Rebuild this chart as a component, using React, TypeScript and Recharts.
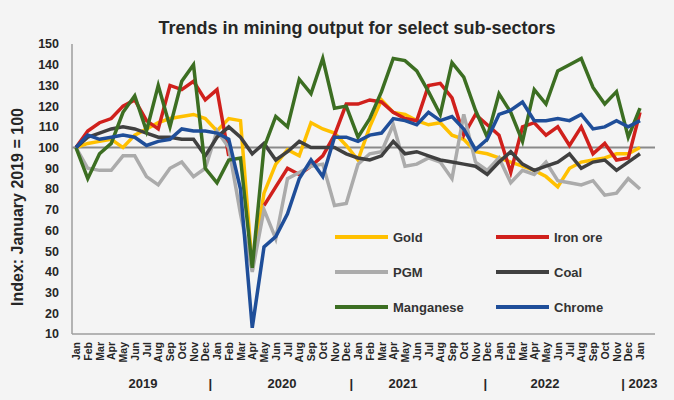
import React from 'react';
import { LineChart, Line, XAxis, YAxis, ReferenceLine } from 'recharts';

const MONTH_NAMES = ['Jan', 'Feb', 'Mar', 'Apr', 'May', 'Jun', 'Jul', 'Aug', 'Sep', 'Oct', 'Nov', 'Dec'];
const FULL_YEARS = [2019, 2020, 2021, 2022];
const LAST_PERIOD = 'Jan 2023';
const Y_TICKS = [10, 20, 30, 40, 50, 60, 70, 80, 90, 100, 110, 120, 130, 140, 150];

const GOLD = [100, 102, 103, 104, 100, 106, 109, 112, 114, 115, 116, 114, 108, 114, 113, 42, 78, 92, 99, 96, 112, 109, 107, 101, 94, 110, 123, 117, 116, 113, 111, 112, 106, 104, 98, 97, 95, 93, 91, 89, 86, 81, 90, 93, 94, 95, 97, 97, 100];
const IRON_ORE = [100, 108, 112, 114, 120, 123, 113, 109, 130, 128, 132, 123, 128, 96, null, null, 72, 81, 90, 87, 91, 96, 106, 121, 121, 123, 122, 117, 114, 113, 130, 131, 124, 106, 116, 111, 106, 88, 110, 112, 106, 110, 101, 110, 97, 102, 94, 95, 117];
const PGM = [100, 90, 89, 89, 96, 96, 86, 82, 90, 93, 86, 90, 108, 100, 68, 40, 70, 56, 85, 88, 91, 92, 72, 73, 92, 97, 98, 111, 91, 92, 95, 93, 85, 116, 93, 89, 95, 83, 89, 87, 93, 84, 83, 82, 84, 77, 78, 85, 80];
const COAL = [100, 105, 107, 109, 110, 109, 107, 105, 105, 104, 104, 96, 105, 110, 105, 97, 102, 94, 98, 103, 100, 100, 100, 97, 95, 94, 96, 103, 97, 98, 96, 94, 93, 92, 91, 87, 93, 98, 92, 89, 91, 93, 97, 90, 93, 94, 89, 93, 97];
const MANGANESE = [100, 85, 97, 102, 117, 125, 108, 130, 110, 132, 140, 90, 83, 94, 95, 42, 100, 115, 110, 133, 126, 143, 119, 120, 105, 114, 127, 143, 142, 137, 127, 116, 141, 134, 118, 105, 126, 117, 103, 128, 121, 137, 140, 143, 129, 121, 127, 105, 119];
const CHROME = [100, 106, 104, 105, 106, 105, 101, 103, 104, 109, 108, 108, 107, 104, 80, 13, 52, 57, 68, 85, 94, 86, 105, 105, 103, 106, 107, 114, 113, 111, 117, 113, 115, 109, 99, 104, 116, 118, 122, 113, 113, 114, 113, 116, 109, 110, 113, 110, 113];

const PERIODS: string[] = [];
FULL_YEARS.forEach((y) => MONTH_NAMES.forEach((m) => PERIODS.push(`${m} ${y}`)));
PERIODS.push(LAST_PERIOD);

const SERIES = [
  { key: 'gold', name: 'Gold', color: '#FFC000', values: GOLD },
  { key: 'iron', name: 'Iron ore', color: '#D0201C', values: IRON_ORE },
  { key: 'pgm', name: 'PGM', color: '#ABABAB', values: PGM },
  { key: 'coal', name: 'Coal', color: '#404040', values: COAL },
  { key: 'mang', name: 'Manganese', color: '#3C6E22', values: MANGANESE },
  { key: 'chrome', name: 'Chrome', color: '#1F4E99', values: CHROME },
];

const data = PERIODS.map((p, i) => {
  const row: Record<string, any> = { period: p };
  SERIES.forEach((s) => {
    row[s.key] = s.values[i];
  });
  return row;
});

const FONT = '"Liberation Sans", Arial, sans-serif';
const TEXT = '#262626';

const YEAR_MARKS: Record<number, { text: string; dx: number; anchor: 'middle' | 'start' }> = {
  6: { text: '2019', dx: -3.5, anchor: 'middle' },
  11: { text: '|', dx: 5, anchor: 'middle' },
  18: { text: '2020', dx: -5.5, anchor: 'middle' },
  23: { text: '|', dx: 5, anchor: 'middle' },
  28: { text: '2021', dx: -2, anchor: 'middle' },
  35: { text: '|', dx: -2, anchor: 'middle' },
  40: { text: '2022', dx: -1, anchor: 'middle' },
  47: { text: '| 2023', dx: -7, anchor: 'start' },
};

const MonthTick = (props: any) => {
  const { x, y, payload } = props;
  const idx = payload?.index ?? props.index;
  const month = String(payload.value).split(' ')[0];
  const mark = YEAR_MARKS[idx];
  return (
    <g>
      <text
        x={x}
        y={y}
        transform={`rotate(-90, ${x}, ${y})`}
        textAnchor="end"
        dominantBaseline="central"
        fontSize={10.5}
        fontWeight="bold"
        fontFamily={FONT}
        fill={TEXT}
      >
        {month}
      </text>
      {mark && (
        <text
          x={x + mark.dx}
          y={y + 41}
          textAnchor={mark.anchor}
          dominantBaseline="central"
          fontSize={13}
          fontWeight="bold"
          fontFamily={FONT}
          fill={TEXT}
        >
          {mark.text}
        </text>
      )}
    </g>
  );
};

const YLabel = (props: any) => {
  const vb = props.viewBox || { x: 32, y: 44, width: 40, height: 290 };
  const cx = vb.x - 15;
  const cy = vb.y + vb.height / 2 + 18;
  return (
    <text
      x={cx}
      y={cy}
      transform={`rotate(-90, ${cx}, ${cy})`}
      textAnchor="middle"
      dominantBaseline="central"
      fontSize={16}
      fontWeight="bold"
      fontFamily={FONT}
      fill={TEXT}
    >
      Index: January 2019 = 100
    </text>
  );
};

const LEGEND_POS = [
  { left: 335, top: 237 },
  { left: 496, top: 237 },
  { left: 335, top: 272 },
  { left: 496, top: 272 },
  { left: 335, top: 307 },
  { left: 496, top: 307 },
];

export default function App() {
  const frame = '#9E9E9E';
  return (
    <div style={{ position: 'absolute', left: 0, top: 0, width: 674, height: 400, background: '#F4F4F4', fontFamily: FONT }}>
      <div
        style={{
          position: 'absolute',
          left: 0,
          width: 714,
          top: 17,
          textAlign: 'center',
          fontSize: 18,
          fontWeight: 'bold',
          color: TEXT,
          lineHeight: '22px',
          whiteSpace: 'nowrap',
        }}
      >
        Trends in mining output for select sub-sectors
      </div>
      <div style={{ position: 'absolute', left: 0, top: 0 }}>
        <LineChart width={674} height={400} data={data} margin={{ top: 44, right: 19, bottom: 26, left: 32 }}>
          <XAxis
            dataKey="period"
            height={40}
            interval={0}
            padding={{ left: 4, right: 15 }}
            tick={<MonthTick />}
            tickLine={false}
            axisLine={{ stroke: frame, strokeWidth: 1.5 }}
          />
          <XAxis
            xAxisId="top"
            orientation="top"
            dataKey="period"
            height={0}
            tick={false}
            tickLine={false}
            padding={{ left: 4, right: 15 }}
            axisLine={{ stroke: frame, strokeWidth: 1.5 }}
          />
          <YAxis
            type="number"
            domain={[10, 150]}
            ticks={Y_TICKS}
            interval={0}
            width={40}
            tickMargin={7}
            tickLine={false}
            axisLine={{ stroke: frame, strokeWidth: 1.5 }}
            tick={{ fontSize: 12.5, fontWeight: 'bold', fill: TEXT, fontFamily: FONT }}
            label={<YLabel />}
          />
          <YAxis
            yAxisId="right"
            orientation="right"
            type="number"
            domain={[10, 150]}
            width={0}
            tick={false}
            tickLine={false}
            axisLine={{ stroke: frame, strokeWidth: 1.5 }}
          />
          <ReferenceLine y={100} stroke="#8A8A8A" strokeWidth={2} />
          {SERIES.map((s) => (
            <Line
              key={s.key}
              type="linear"
              dataKey={s.key}
              name={s.name}
              stroke={s.color}
              strokeWidth={3.5}
              dot={false}
              activeDot={false}
              isAnimationActive={false}
            />
          ))}
        </LineChart>
      </div>
      {SERIES.map((s, i) => (
        <div
          key={s.key}
          style={{
            position: 'absolute',
            left: LEGEND_POS[i].left,
            top: LEGEND_POS[i].top - 9,
            height: 18,
            display: 'flex',
            alignItems: 'center',
            whiteSpace: 'nowrap',
          }}
        >
          <div style={{ width: 53, height: 3.5, background: s.color }} />
          <span style={{ marginLeft: 5, fontSize: 13, fontWeight: 'bold', color: '#333' }}>{s.name}</span>
        </div>
      ))}
    </div>
  );
}
